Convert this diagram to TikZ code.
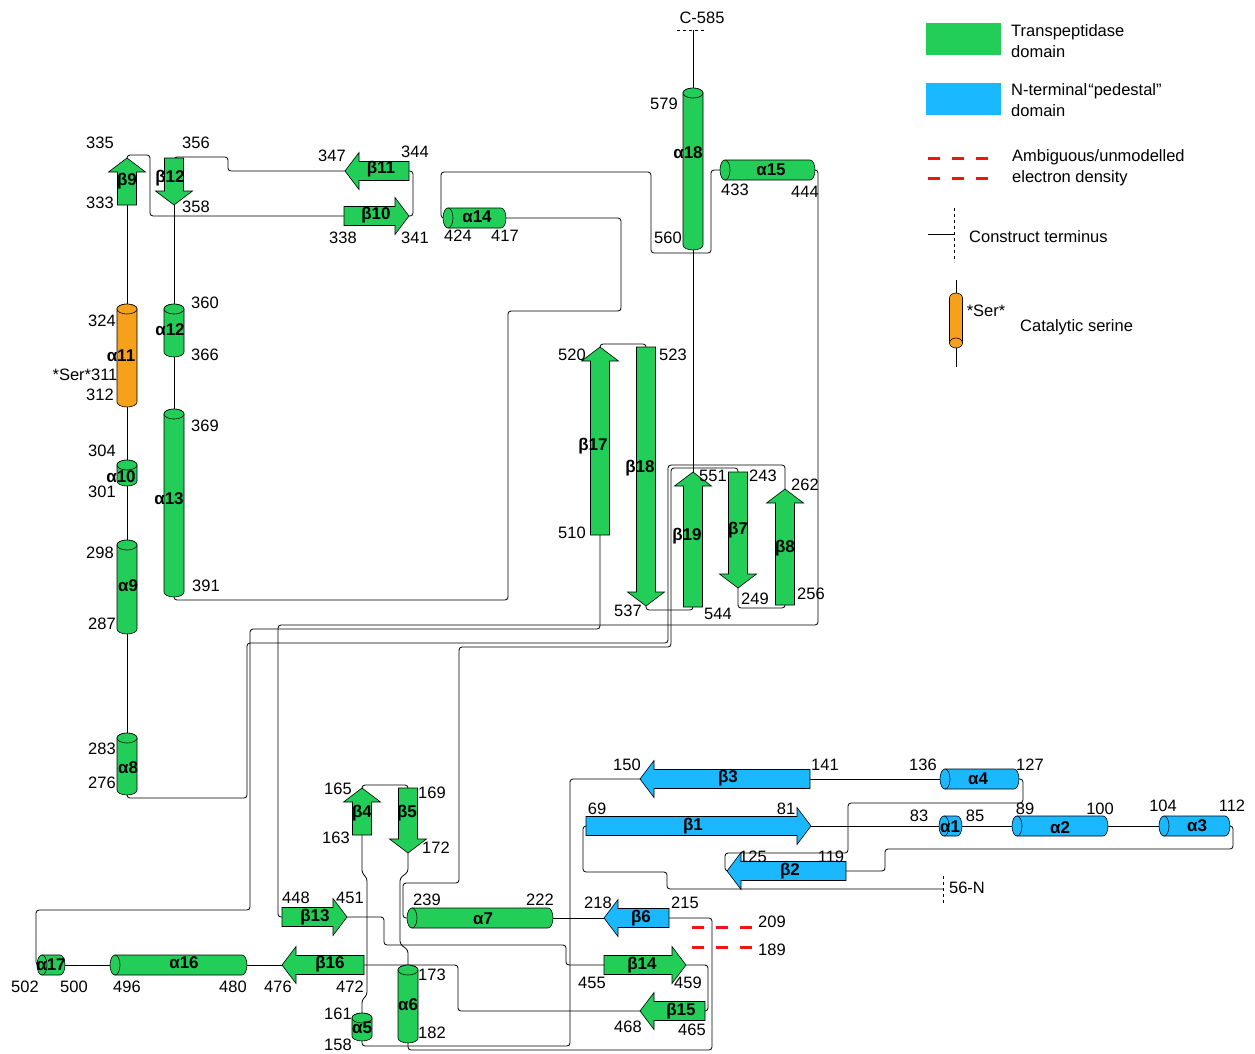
\documentclass[tikz,border=0pt]{standalone}
\usepackage{fontspec}
\setmainfont{Liberation Sans}
\usetikzlibrary{calc,backgrounds}

\definecolor{tpgreen}{RGB}{34,206,88}
\definecolor{ntblue}{RGB}{26,185,255}
\definecolor{serorange}{RGB}{246,160,28}
\definecolor{dashred}{RGB}{240,20,20}

\pgfdeclarelayer{links}
\pgfsetlayers{background,links,main}

% vertical helix: [half width] name, x, y top, y bottom, colour, label, label position
\newcommand{\helixV}[8][10]{%
  \path[sse, fill=#6] ({#3-#1},{#4+5}) -- ({#3-#1},{#5-5})
    arc[start angle=180, end angle=0, x radius=#1, y radius=5]
    -- ({#3+#1},{#4+5}) arc[start angle=0, end angle=-180, x radius=#1, y radius=5] -- cycle;
  \path[sse, fill=#6] (#3,{#4+5}) ellipse[x radius=#1, y radius=5];
  \node[ssebox, minimum width={2*#1}, minimum height={#5-#4}] (#2) at (#3,{(#4+#5)/2}) {};
  \node[sselabel] (#2 label) at (#8) {#7};
}
% horizontal helix: name, x left, x right, y, colour, label, label position
\newcommand{\helixH}[7]{%
  \path[sse, fill=#5] ({#2+5},{#4-10}) -- ({#3-5},{#4-10})
    arc[start angle=-90, end angle=90, x radius=5, y radius=10] -- ({#2+5},{#4+10}) -- cycle;
  \path[sse, fill=#5] ({#2+5},#4) ellipse[x radius=5, y radius=10];
  \node[ssebox, minimum width={#3-#2}, minimum height=20] (#1) at ({(#2+#3)/2},#4) {};
  \node[sselabel] (#1 label) at (#7) {#6};
}
% strand: name, tail, tip, colour, label, label position
\newcommand{\strand}[6]{%
  \coordinate (#1 tail) at (#2);
  \coordinate (#1 tip) at (#3);
  \coordinate (#1 base) at ($(#1 tip)!14pt!(#1 tail)$);
  \path[sse, fill=#4] ($(#1 tail)!9.5pt!90:(#1 tip)$) -- ($(#1 base)!9.5pt!90:(#1 tip)$)
    -- ($(#1 base)!18.5pt!90:(#1 tip)$) -- (#1 tip) -- ($(#1 base)!18.5pt!-90:(#1 tip)$)
    -- ($(#1 base)!9.5pt!-90:(#1 tip)$) -- ($(#1 tail)!9.5pt!-90:(#1 tip)$) -- cycle;
  \node[sselabel] (#1) at (#6) {#5};
}

\begin{document}
\begin{tikzpicture}[
  x=1pt, y=-1pt,
  show background rectangle, inner frame sep=0pt,
  background rectangle/.style={fill=white},
  sse/.style={draw=black, line width=0.6pt},
  ssebox/.style={rectangle, inner sep=0pt, outer sep=0pt},
  sselabel/.style={font=\bfseries\fontsize{17}{17}\selectfont, inner sep=0pt},
  numlab/.style={font=\fontsize{16.5}{18}\selectfont, inner sep=0pt},
  legtext/.style={font=\fontsize{16.5}{21}\selectfont, inner sep=0pt, anchor=west, align=left},
  legbox/.style={rectangle, inner sep=0pt, minimum width=75, minimum height=32},
  conn/.style={draw=black, line width=0.8pt, rounded corners=3pt},
  termtick/.style={draw=black, line width=0.8pt, dash pattern=on 3pt off 3pt},
  gapdash/.style={draw=dashred, line width=3pt, dash pattern=on 12pt off 12pt}
]
\useasboundingbox (0,0) rectangle (1255,1053);

% transpeptidase domain, left columns
\helixV[10]{a11}{127}{304}{407}{serorange}{α11}{121,356}
\helixV{a10}{127}{460}{486}{tpgreen}{α10}{121,477}
\helixV{a9}{127}{540}{634}{tpgreen}{α9}{128,586}
\helixV{a8}{127}{733}{795}{tpgreen}{α8}{128,768}
\helixV{a12}{174}{304}{357}{tpgreen}{α12}{170,330}
\helixV{a13}{174}{409}{597}{tpgreen}{α13}{169,499}
\strand{b9}{127,205}{127,158}{tpgreen}{β9}{127,181}
\strand{b12}{174,158}{174,205}{tpgreen}{β12}{170,178}
\strand{b10}{344,216}{409,216}{tpgreen}{β10}{376,215}
\strand{b11}{409,171}{345,171}{tpgreen}{β11}{381,169}

% transpeptidase domain, top right
\helixH{a14}{443}{506}{218}{tpgreen}{α14}{477,217}
\helixH{a15}{720}{815}{170}{tpgreen}{α15}{771,170}
\helixV{a18}{693}{88}{250}{tpgreen}{α18}{688,153}
\strand{b17}{600,535}{600,347}{tpgreen}{β17}{593,446}
\strand{b18}{646,347}{646,606}{tpgreen}{β18}{640,468}
\strand{b19}{693,607}{693,472}{tpgreen}{β19}{687,536}
\strand{b7}{738,472}{738,588}{tpgreen}{β7}{738,530}
\strand{b8}{785,605}{785,489}{tpgreen}{β8}{785,548}

% transpeptidase domain, bottom
\helixV{a5}{362}{1013}{1041}{tpgreen}{α5}{362,1028}
\helixV{a6}{408}{965}{1043}{tpgreen}{α6}{408,1005}
\helixH{a7}{407}{553}{918}{tpgreen}{α7}{483,919}
\helixH{a16}{110}{247}{965}{tpgreen}{α16}{184,963}
\helixH{a17}{37}{65}{965}{tpgreen}{α17}{51,965}
\strand{b4}{362,835}{362,788}{tpgreen}{β4}{362,813}
\strand{b5}{408,788}{408,853}{tpgreen}{β5}{407,813}
\strand{b13}{282,917}{347,917}{tpgreen}{β13}{315,917}
\strand{b16}{364,965}{282,965}{tpgreen}{β16}{330,964}
\strand{b14}{604,965}{686,965}{tpgreen}{β14}{642,965}
\strand{b15}{705,1011}{640,1011}{tpgreen}{β15}{681,1011}

% N-terminal pedestal domain
\helixH{a4}{940}{1019}{779}{ntblue}{α4}{978,779}
\helixH{a1}{939}{962}{826}{ntblue}{α1}{950,827}
\helixH{a2}{1012}{1108}{826}{ntblue}{α2}{1060,828}
\helixH{a3}{1159}{1230}{826}{ntblue}{α3}{1197,826}
\strand{b6}{669,918}{604,918}{ntblue}{β6}{641,918}
\strand{b3}{810,779}{640,779}{ntblue}{β3}{728,778}
\strand{b1}{586,826}{811,826}{ntblue}{β1}{693,826}
\strand{b2}{846,871}{727,871}{ntblue}{β2}{790,871}

% residue numbers
\foreach \t/\x/\y in {335/100/143, 333/100/203, 356/196/143, 358/196/207, 347/332/156,
    344/415/152, 338/343/238, 341/415/238, 324/102/321, 312/100/395, 360/205/303,
    366/205/355, 369/205/426, 304/102/451, 301/102/492, 298/100/553, 287/102/624,
    391/206/586, 283/102/749, 276/102/783, 424/458/236, 417/505/236, 579/664/104,
    560/668/238, 433/735/190, 444/805/192, 520/572/355, 523/673/355, 510/572/533,
    537/628/611, 551/713/476, 243/763/476, 262/805/485, 249/755/599, 256/811/594,
    544/718/614, 165/338/789, 169/432/793, 163/336/838, 172/436/848, 448/296/898,
    451/350/898, 239/427/900, 222/540/900, 218/598/903, 215/685/903, 209/772/922,
    189/772/950, 502/25/987, 500/74/987, 496/127/987, 480/233/987, 476/278/987,
    472/350/987, 173/432/975, 182/432/1033, 161/338/1014, 158/338/1045, 455/592/983,
    459/688/983, 468/628/1027, 465/692/1030, 150/627/765, 141/825/765, 136/923/765,
    127/1030/765, 69/597/809, 81/786/809, 83/919/816, 85/975/816, 89/1025/809,
    100/1100/809, 104/1163/806, 112/1232/806, 125/753/857, 119/831/857}
  \node[numlab] (n\t) at (\x,\y) {\t};
\node[numlab] (nser) at (85,375) {*Ser*311};
\node[numlab] (ncterm) at (702,18) {C-585};
\node[numlab] (nnterm) at (967,888) {56-N};

% loops
\begin{pgfonlayer}{links}
\coordinate (nterm) at (943,889);
\draw[conn] (nterm) -- (667,889) -- (667,872) -- (583,872) -- (583,826) -- (b1 tail);
\draw[conn] (b1 tip) -- (a1.west);
\draw[conn] (a1.east) -- (a2.west);
\draw[conn] (a2.east) -- (a3.west);
\draw[conn] (a3.east) -- (1233,826) -- (1233,849) -- (885,849) -- (885,871) -- (b2 tail);
\draw[conn] (b2 tip) -- (725,871) -- (725,853) -- (848,853) -- (848,803) -- (1023,803) -- (1023,779) -- (a4.east);
\draw[conn] (a4.west) -- (b3 tail);
\draw[conn] (b3 tip) -- (570,779) -- (570,1046) -- (362,1046) -- (a5.south);
\draw[conn] (a5.north) -- (362,1000) -- (367,995) -- (367,878) -- (362,873) -- (b4 tail);
\draw[conn] (b4 tip) -- (362,785) -- (408,785) -- (b5 tail);
\draw[conn] (b5 tip) -- (408,872) -- (400,878) -- (400,944) -- (408,950) -- (a6.north);
\draw[conn] (a6.south) -- (408,1050) -- (712,1050) -- (712,918) -- (b6 tail);
\draw[conn] (b6 tip) -- (a7.east);
\draw[conn] (a7.west) -- (403,918) -- (403,883) -- (459,883) -- (459,647) -- (671,647) -- (671,468) -- (738,468) -- (b7 tail);
\draw[conn] (b7 tip) -- (738,608) -- (785,608) -- (b8 tail);
\draw[conn] (b8 tip) -- (785,465) -- (668,465) -- (668,643) -- (247,643) -- (247,798) -- (127,798) -- (a8.south);
\draw[conn] (a8.north) -- (a9.south);
\draw[conn] (a9.north) -- (a10.south);
\draw[conn] (a10.north) -- (a11.south);
\draw[conn] (a11.north) -- (b9 tail);
\draw[conn] (b9 tip) -- (127,155) -- (150,155) -- (150,216) -- (b10 tail);
\draw[conn] (b10 tip) -- (413,216) -- (413,171) -- (b11 tail);
\draw[conn] (b11 tip) -- (228,171) -- (228,157) -- (174,157) -- (b12 tail);
\draw[conn] (b12 tip) -- (a12.north);
\draw[conn] (a12.south) -- (a13.north);
\draw[conn] (a13.south) -- (174,600) -- (508,600) -- (508,311) -- (621,311) -- (621,218) -- (a14.east);
\draw[conn] (a14.west) -- (441,218) -- (441,172) -- (651,172) -- (651,253) -- (711,253) -- (711,170) -- (a15.west);
\draw[conn] (a15.east) -- (818,170) -- (818,625) -- (278,625) -- (278,917) -- (b13 tail);
\draw[conn] (b13 tip) -- (384,917) -- (384,945) -- (566,945) -- (566,965) -- (b14 tail);
\draw[conn] (b14 tip) -- (708,965) -- (708,1011) -- (b15 tail);
\draw[conn] (b15 tip) -- (458,1011) -- (458,965) -- (b16 tail);
\draw[conn] (b16 tip) -- (a16.east);
\draw[conn] (a16.west) -- (a17.east);
\draw[conn] (a17.west) -- (36,965) -- (36,910) -- (250,910) -- (250,629) -- (600,629) -- (b17 tail);
\draw[conn] (b17 tip) -- (600,344) -- (646,344) -- (b18 tail);
\draw[conn] (b18 tip) -- (646,610) -- (693,610) -- (b19 tail);
\draw[conn] (b19 tip) -- (a18.south);
\coordinate (cterm) at (693,30);
\draw[conn] (a18.north) -- (cterm);
\end{pgfonlayer}

% termini and unmodelled density
\draw[termtick] ([xshift=-16pt]cterm) -- ([xshift=13pt]cterm);
\draw[termtick] ([yshift=13pt]nterm) -- ([yshift=-16pt]nterm);
\coordinate (gap209) at (692,927);
\coordinate (gap189) at (692,947);
\draw[gapdash] (gap209) -- ++(60,0);
\draw[gapdash] (gap189) -- ++(60,0);

% legend
\node[legbox, fill=tpgreen] (leg green) at (963.5,39) {};
\node[legtext] (leg green text) at (1011,41) {Transpeptidase\\domain};
\node[legbox, fill=ntblue] (leg blue) at (963.5,99) {};
\node[legtext] (leg blue text) at (1011,100) {N-terminal\kern1pt“pedestal”\\domain};
\coordinate (leg dash1) at (928,158);
\coordinate (leg dash2) at (928,178);
\draw[gapdash] (leg dash1) -- ++(60,0);
\draw[gapdash] (leg dash2) -- ++(60,0);
\node[legtext] (leg dash text) at (1012,168) {Ambiguous/unmodelled\\electron density};
\coordinate (leg term) at (954,234);
\draw[conn] (leg term) -- ++(-26,0);
\draw[termtick] ([yshift=26pt]leg term) -- ([yshift=-28pt]leg term);
\node[legtext] (leg term text) at (969,237) {Construct terminus};
\path[sse, fill=serorange] (949.5,298) arc[start angle=180, end angle=360, x radius=6.5, y radius=5]
  -- (962.5,343) -- (949.5,343) -- cycle;
\path[sse, fill=serorange] (956,343) ellipse[x radius=6.5, y radius=5];
\node[ssebox, minimum width=13, minimum height=55] (leg ser) at (956,320) {};
\coordinate (leg ser top) at (956,280);
\coordinate (leg ser bottom) at (956,367);
\begin{pgfonlayer}{links}
\draw[conn] (leg ser top) -- (leg ser.north);
\draw[conn] (leg ser.south) -- (leg ser bottom);
\end{pgfonlayer}
\node[numlab] (leg ser text) at (986,311) {*Ser*};
\node[legtext] (leg cat text) at (1020,327) {Catalytic serine};
\end{tikzpicture}
\end{document}
